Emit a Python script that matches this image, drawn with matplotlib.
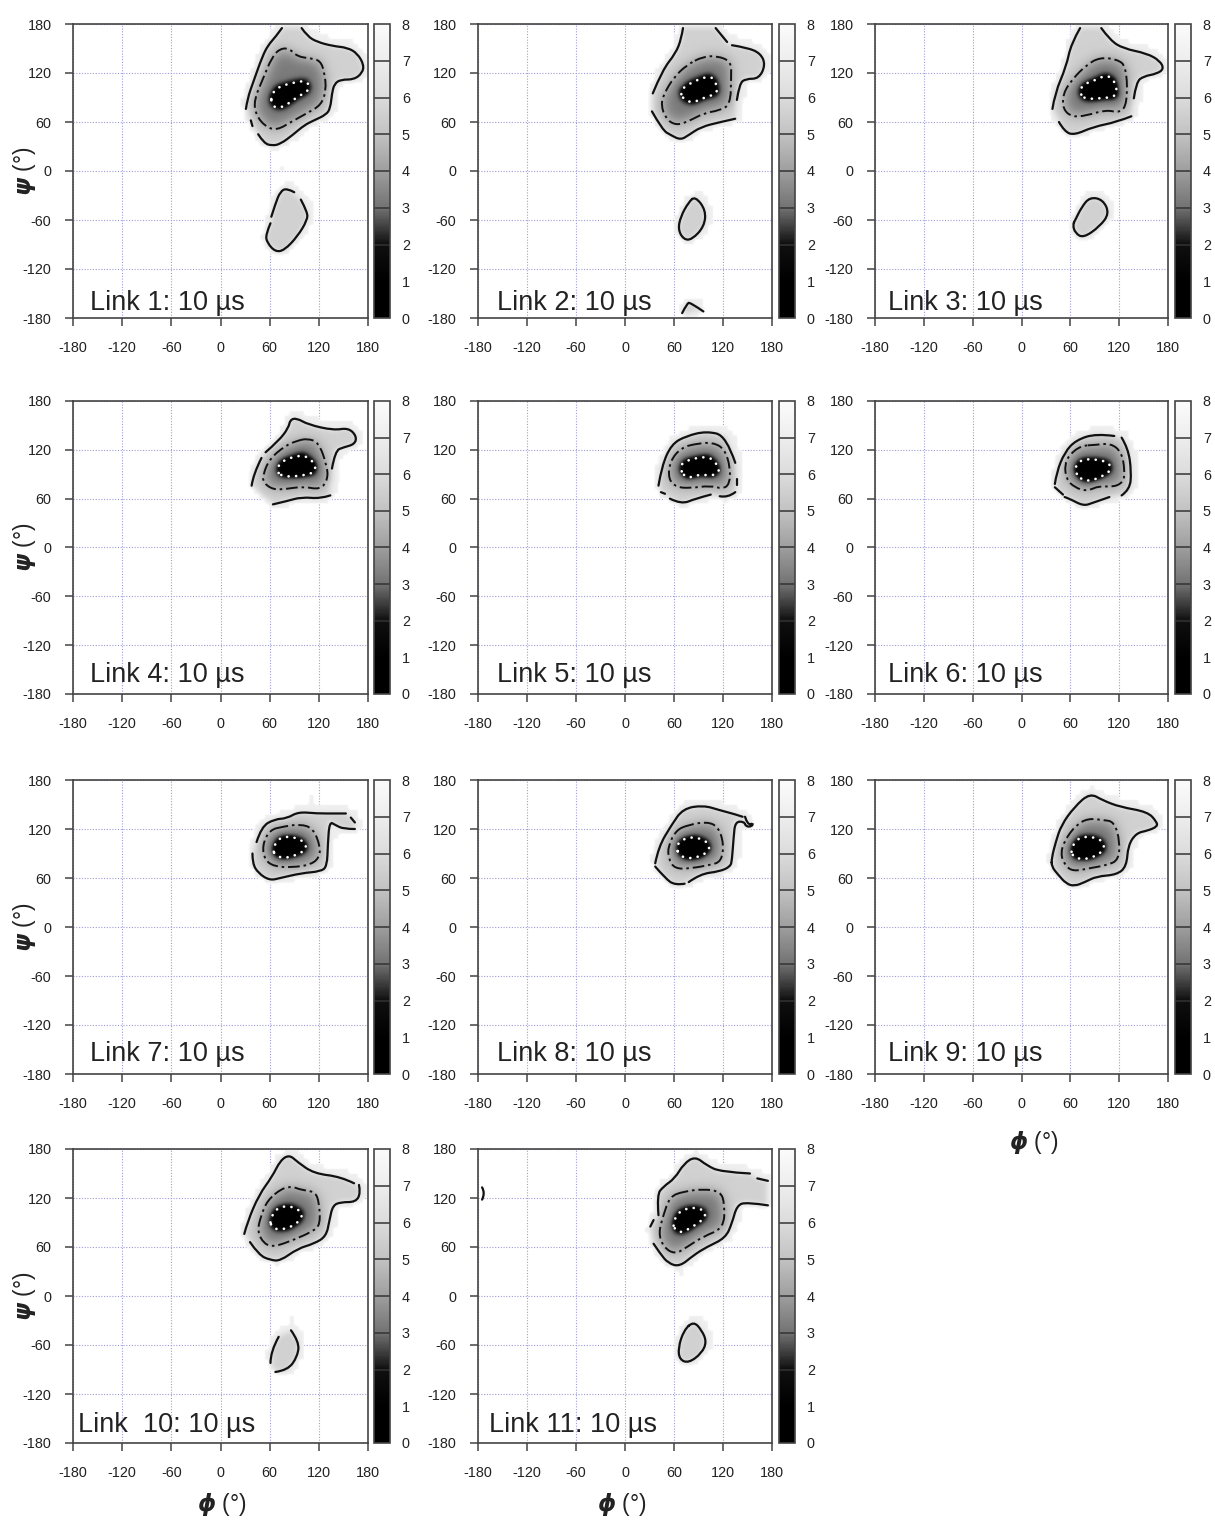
import numpy as np
import matplotlib
matplotlib.use("Agg")
import matplotlib.pyplot as plt
from matplotlib.colors import LinearSegmentedColormap
from matplotlib.path import Path
from matplotlib.patches import PathPatch

plt.rcParams['font.family'] = ['Liberation Sans', 'DejaVu Sans']
plt.rcParams['mathtext.fontset'] = 'dejavusans'
plt.rcParams['axes.unicode_minus'] = False

TICKS = [-180, -120, -60, 0, 60, 120, 180]
BAR_LEVELS = [0, 1, 2, 3, 4, 5, 6, 7, 8]
BAR_GREYS = [0.0, 0.0, 0.06, 0.45, 0.62, 0.76, 0.86, 0.93, 0.985]

# Contours as (phi, psi). Solid lines keep their gaps as separate pieces.
link1_solid = [
    [(31, 76), (33, 89), (40, 109), (51, 140), (58, 154), (67, 164), (75, 175)],
    [(99, 175), (106, 165), (118, 158), (137, 153), (155, 151), (167, 144), (175, 130), (173, 120), (163, 112),
     (147, 112), (139, 107), (136, 95), (134, 77), (129, 69), (114, 62), (102, 56), (88, 44), (73, 33), (63, 31),
     (53, 34), (46, 45)],
    [(39, 55), (37, 62)],
]
link1_dash = [(73, 150), (84, 150), (94, 140), (110, 138), (122, 135), (127, 120), (129, 99), (123, 81), (106, 71),
              (86, 60), (69, 50), (55, 54), (43, 69), (41, 87), (51, 111), (63, 140)]
link1_dots = [(62, 93), (70, 103), (88, 108), (106, 111), (109, 99), (94, 91), (78, 79), (67, 77), (62, 83)]
link1_lower = [
    [(62, -56), (67, -40), (73, -25), (81, -21), (90, -26)],
    [(98, -35), (106, -50), (106, -60), (94, -80), (78, -97), (67, -99), (57, -88), (55, -78), (61, -64)],
]
link1_specks = [(78, -172), (84, -172), (68, 20), (68, 10), (72, 0)]

link2_solid = [
    [(34, 95), (46, 124), (62, 144), (69, 162), (71, 175)],
    [(111, 175), (125, 158)],
    [(131, 154), (150, 151), (166, 144), (172, 130), (164, 113), (148, 113), (140, 107), (137, 87)],
    [(135, 64), (117, 60), (93, 54), (78, 44), (68, 38), (56, 44), (46, 50), (33, 73)],
]
link2_dash = [(95, 140), (113, 141), (130, 134), (130, 115), (129, 81), (115, 74), (97, 71), (76, 60), (62, 56),
              (50, 64), (44, 81), (48, 95), (60, 115), (76, 130)]
link2_dots = [(68, 99), (80, 108), (103, 117), (111, 110), (114, 95), (97, 90), (82, 83), (70, 89)]
link2_lower = [[(86, -31), (99, -48), (97, -68), (82, -84), (72, -84), (65, -72), (68, -56), (78, -38)]]
link2_arc = [(70, -174), (76, -162), (80, -161), (96, -172)]
link2_specks = [(85, -15), (68, -95)]

link3_solid = [
    [(38, 76), (41, 95), (55, 128), (61, 156), (72, 175)],
    [(98, 175), (109, 160), (125, 150), (154, 144), (170, 135), (175, 125), (166, 119), (150, 116), (141, 109),
     (138, 89)],
    [(135, 67), (117, 60), (88, 54), (65, 44), (53, 48), (46, 60)],
]
link3_dash = [(96, 139), (117, 137), (129, 128), (130, 83), (121, 71), (104, 75), (80, 68), (63, 66), (51, 75),
              (51, 95), (63, 113), (80, 130)]
link3_dots = [(71, 99), (78, 107), (90, 111), (105, 118), (115, 110), (118, 91), (96, 89), (76, 88)]
link3_lower = [
    [(66, -60), (74, -44), (84, -32), (100, -35), (108, -52), (96, -68), (76, -82), (66, -76), (63, -66)],
]
link3_specks = [(-172, 130), (-168, 130), (82, -175), (86, -175)]

link4_solid = [
    [(38, 76), (40, 90), (50, 110)],
    [(55, 117), (71, 131), (83, 147), (85, 157), (93, 159), (107, 151), (138, 144), (156, 147), (166, 137), (164, 127),
     (150, 123), (140, 119), (136, 97)],
    [(134, 64), (122, 60), (99, 62), (81, 57), (64, 53)],
]
link4_dash = [(106, 134), (120, 129), (130, 100), (131, 84), (122, 71), (101, 75), (81, 72), (64, 71), (52, 80),
              (52, 90), (60, 109), (79, 125), (93, 131)]
link4_dots = [(69, 94), (73, 106), (101, 115), (115, 104), (116, 92), (97, 88), (81, 87), (73, 89)]
link4_specks = [(90, 165), (96, 165), (84, 165)]

link5_solid = [
    [(41, 76), (45, 100), (57, 127), (75, 137), (100, 143), (124, 137), (135, 104)],
    [(137, 84), (137, 77)],
    [(135, 68), (126, 61), (116, 63)],
    [(105, 65), (86, 60), (69, 53), (55, 60)],
    [(49, 66), (44, 68)],
]
link5_dash = [(90, 128), (108, 129), (122, 121), (129, 98), (128, 78), (120, 72), (104, 76), (80, 73), (63, 74),
              (53, 84), (55, 106), (69, 123)]
link5_dots = [(68, 97), (71, 106), (102, 113), (113, 102), (116, 94), (108, 88), (90, 90), (77, 85), (71, 90)]
link5_specks = [(95, 150), (101, 150)]

link6_solid = [
    [(41, 78), (43, 92), (53, 117), (67, 132), (92, 140), (114, 137)],
    [(123, 135), (131, 122), (135, 93), (133, 71), (123, 64)],
    [(108, 62), (88, 55), (76, 51), (59, 60), (53, 62)],
    [(51, 65), (41, 74)],
]
link6_dash = [(90, 126), (110, 128), (123, 117), (127, 94), (125, 80), (112, 74), (96, 76), (80, 69), (65, 74),
              (55, 84), (53, 102), (59, 114), (73, 125)]
link6_dots = [(65, 96), (71, 107), (86, 109), (108, 105), (110, 94), (96, 86), (82, 81), (71, 85)]

link7_solid = [
    [(44, 104), (50, 123), (66, 132), (81, 133), (95, 141), (117, 139), (142, 139), (153, 139)],
    [(159, 134), (164, 128)],
    [(164, 120), (150, 120), (140, 125), (133, 129), (131, 102), (130, 74), (122, 68), (99, 66), (73, 60), (60, 57),
     (46, 66), (39, 78), (39, 90)],
]
link7_dash = [(77, 123), (97, 126), (113, 121), (122, 98), (120, 84), (109, 76), (87, 73), (66, 74), (54, 82),
              (51, 100), (60, 119)]
link7_dots = [(64, 96), (71, 109), (85, 111), (101, 106), (106, 96), (93, 88), (77, 84), (66, 88)]
link7_specks = [(108, 150), (108, 156)]

link8_solid = [
    [(37, 78), (41, 98), (57, 125), (71, 145), (96, 149), (116, 143), (135, 138), (144, 135)],
    [(147, 135), (150, 125), (157, 127), (155, 123), (148, 123), (146, 129), (135, 129), (133, 110), (131, 82),
     (129, 74), (116, 68), (92, 65), (78, 55)],
    [(73, 53), (61, 51), (49, 60), (37, 74)],
]
link8_dash = [(78, 125), (100, 129), (114, 123), (121, 102), (118, 80), (104, 76), (82, 72), (61, 71), (53, 84),
              (53, 100), (63, 119)]
link8_dots = [(63, 96), (67, 106), (84, 111), (102, 104), (104, 94), (90, 85), (73, 84), (66, 90)]

link9_solid = [
    [(37, 84), (42, 104), (49, 125), (65, 147), (84, 164), (100, 155), (121, 147), (155, 141), (166, 129), (167, 123),
     (155, 118), (141, 115), (131, 100), (129, 74), (117, 64), (92, 62), (78, 55), (65, 50), (55, 53), (45, 64),
     (37, 74)],
]
link9_dash = [(82, 133), (100, 131), (114, 129), (121, 104), (119, 82), (106, 76), (84, 72), (63, 68), (53, 76),
              (48, 90), (53, 106), (67, 125)]
link9_dots = [(61, 96), (69, 109), (84, 111), (100, 106), (102, 94), (86, 84), (69, 83), (62, 88)]

link10_solid = [
    [(29, 76), (33, 91), (47, 124), (63, 146), (73, 166), (84, 173), (94, 164), (114, 150), (147, 146), (163, 138)],
    [(169, 136), (171, 126), (165, 115), (147, 115), (137, 111), (133, 93), (129, 73), (114, 64), (94, 58), (73, 43),
     (61, 44), (47, 50), (36, 66)],
]
link10_dash = [(75, 132), (88, 134), (98, 130), (114, 128), (120, 118), (122, 87), (112, 79), (90, 69), (65, 60),
               (53, 64), (45, 79), (49, 97), (57, 117)]
link10_dots = [(61, 93), (67, 107), (84, 111), (100, 103), (98, 93), (84, 83), (67, 81), (61, 87)]
link10_lower = [
    [(86, -42), (96, -56), (94, -74), (82, -91), (67, -93)],
    [(61, -82), (61, -68), (71, -50)],
]
link10_specks = [(84, -30), (84, -36)]

link11_solid = [
    [(31, 85), (35, 93)],
    [(41, 99), (39, 124), (47, 134), (61, 144), (72, 162), (86, 171), (100, 160), (117, 152), (153, 150)],
    [(162, 144), (175, 141)],
    [(175, 111), (149, 115), (137, 111), (131, 89), (123, 71), (100, 60), (84, 50), (67, 36), (53, 40), (43, 52),
     (35, 64)],
]
link11_dash = [(72, 128), (96, 131), (117, 128), (122, 113), (121, 83), (96, 73), (76, 60), (61, 51), (47, 60),
               (41, 77), (47, 99), (55, 122)]
link11_dots = [(59, 89), (65, 103), (82, 109), (98, 105), (98, 95), (80, 83), (67, 77), (60, 83)]
link11_lower = [[(84, -31), (94, -42), (100, -56), (94, -70), (78, -82), (67, -78), (65, -64), (72, -42)]]
link11_arc = [(-175, 133), (-171, 126), (-175, 118)]
link11_specks = [(66, 25), (66, 15), (80, -12), (80, -18)]

# label, solid, dash, dots, lower basin, open arc, specks, column, row, label x px
panels = [
    ("Link 1: 10 µs", link1_solid, link1_dash, link1_dots, link1_lower, None, link1_specks, 0, 0, 90),
    ("Link 2: 10 µs", link2_solid, link2_dash, link2_dots, link2_lower, link2_arc, link2_specks, 1, 0, 497),
    ("Link 3: 10 µs", link3_solid, link3_dash, link3_dots, link3_lower, None, link3_specks, 2, 0, 888),
    ("Link 4: 10 µs", link4_solid, link4_dash, link4_dots, None, None, link4_specks, 0, 1, 90),
    ("Link 5: 10 µs", link5_solid, link5_dash, link5_dots, None, None, link5_specks, 1, 1, 497),
    ("Link 6: 10 µs", link6_solid, link6_dash, link6_dots, None, None, [], 2, 1, 888),
    ("Link 7: 10 µs", link7_solid, link7_dash, link7_dots, None, None, link7_specks, 0, 2, 90),
    ("Link 8: 10 µs", link8_solid, link8_dash, link8_dots, None, None, [], 1, 2, 497),
    ("Link 9: 10 µs", link9_solid, link9_dash, link9_dots, None, None, [], 2, 2, 888),
    ("Link  10: 10 µs", link10_solid, link10_dash, link10_dots, link10_lower, None, link10_specks, 0, 3, 78),
    ("Link 11: 10 µs", link11_solid, link11_dash, link11_dots, link11_lower, link11_arc, link11_specks, 1, 3, 489),
]

COL_X = [(73, 368, 374, 390), (478, 772, 779, 795), (875, 1168, 1175, 1191)]
ROW_Y = [(24, 318), (401, 694), (780, 1074), (1149, 1443)]
LABEL_Y = [303, 675, 1054, 1425]
W, H = 1215, 1520
FRAME = '#444444'

grey_map = LinearSegmentedColormap.from_list(
    'bar', [(v / 8, (g, g, g)) for v, g in zip(BAR_LEVELS, BAR_GREYS)])
grey_map.set_bad((1, 1, 1, 0))

cells = np.arange(-179, 180, 2)
gx, gy = np.meshgrid(cells, cells)
grid_pts = np.column_stack([gx.ravel(), gy.ravel()])


def inside(points):
    return Path(list(points) + [points[0]]).contains_points(grid_pts).reshape(gx.shape).astype(float)


def blur(field, sigma):
    # sigma in degrees, grid step is 2
    r = int(3 * sigma / 2) + 1
    k = np.exp(-0.5 * (np.arange(-r, r + 1) * 2 / sigma) ** 2)
    k /= k.sum()
    out = np.apply_along_axis(lambda v: np.convolve(v, k, mode='same'), 0, field)
    return np.apply_along_axis(lambda v: np.convolve(v, k, mode='same'), 1, out)


def make_field(solid, dash, dots, lower, arc, specks):
    region = inside([p for seg in solid for p in seg])
    if lower:
        region = np.maximum(region, inside([p for seg in lower for p in seg]))
    if arc:
        region = np.maximum(region, inside(arc))
    halo = blur(region, 6) > 0.1
    for phi, psi in specks:
        halo[int((psi + 180) / 2), int((phi + 180) / 2)] = True
    # blocky halo, the original bins are about 6 degrees wide
    blocks = halo[::3, ::3]
    halo = np.kron(blocks, np.ones((3, 3)))[:gx.shape[0], :gx.shape[1]]
    field = 8 - 0.9 * blur(halo, 1.5) - 1.5 * blur(region, 3) - 2.4 * blur(inside(dash), 8) - 3.2 * blur(inside(dots), 5)
    return np.ma.masked_where(field > 7.75, field)


def smooth_path(points, closed):
    pts = np.array(points, dtype=float)
    if closed:
        start = (pts[-1] + pts[0]) / 2
        verts, codes = [start], [Path.MOVETO]
        for i in range(len(pts)):
            verts += [pts[i], (pts[i] + pts[(i + 1) % len(pts)]) / 2]
            codes += [Path.CURVE3, Path.CURVE3]
        return Path(verts, codes)
    if len(pts) < 3:
        return Path(pts)
    verts, codes = [pts[0]], [Path.MOVETO]
    for i in range(1, len(pts) - 1):
        end = pts[i + 1] if i == len(pts) - 2 else (pts[i] + pts[i + 1]) / 2
        verts += [pts[i], end]
        codes += [Path.CURVE3, Path.CURVE3]
    return Path(verts, codes)


def draw_line(ax, points, closed, **style):
    ax.add_patch(PathPatch(smooth_path(points, closed), fill=False, zorder=3, **style))


def draw_segments(ax, segments):
    closed = len(segments) == 1
    for seg in segments:
        draw_line(ax, seg, closed, edgecolor='#111111', lw=1.6, capstyle='round')


fig = plt.figure(figsize=(W / 100, H / 100), dpi=100, facecolor='white')

for label, solid, dash, dots, lower, arc, specks, col, row, label_x in panels:
    x0, x1, bx0, bx1 = COL_X[col]
    y0, y1 = ROW_Y[row]
    ax = fig.add_axes([x0 / W, 1 - y1 / H, (x1 - x0) / W, (y1 - y0) / H])
    im = ax.imshow(make_field(solid, dash, dots, lower, arc, specks), cmap=grey_map, vmin=0, vmax=8, origin='lower',
                   extent=(-180, 180, -180, 180), aspect='auto', interpolation='bilinear', zorder=1)
    draw_segments(ax, solid)
    if lower:
        draw_segments(ax, lower)
    if arc:
        draw_line(ax, arc, False, edgecolor='#111111', lw=1.6, capstyle='round')
    draw_line(ax, dash, True, edgecolor='#111111', lw=1.4, linestyle=(0, (6, 2, 1.3, 2)))
    draw_line(ax, dots, True, edgecolor='white', lw=1.9, linestyle=(0, (0.05, 2.8)), capstyle='round')

    ax.set_xlim(-180, 180)
    ax.set_ylim(-180, 180)
    ax.set_xticks(TICKS)
    ax.set_yticks(TICKS)
    ax.set_axisbelow(True)
    ax.grid(True, color=(0.62, 0.62, 0.85), lw=0.8, linestyle=(0, (1, 1.5)))
    ax.tick_params(length=6, width=1.1, color=FRAME, labelcolor='#222222', labelsize=10.4)
    ax.tick_params(axis='x', pad=10.5)
    ax.tick_params(axis='y', pad=9.5)
    for spine in ax.spines.values():
        spine.set_color(FRAME)
        spine.set_linewidth(1.2)
    fig.text(label_x / W, 1 - LABEL_Y[row] / H, label, fontsize=19.5, color='#222222', va='center', ha='left')

    cax = fig.add_axes([bx0 / W, 1 - y1 / H, (bx1 - bx0) / W, (y1 - y0) / H])
    bar = fig.colorbar(plt.cm.ScalarMappable(norm=im.norm, cmap=grey_map), cax=cax, ticks=BAR_LEVELS)
    bar.ax.tick_params(length=0, labelsize=10.4, labelcolor='#222222', pad=8.5)
    bar.ax.hlines(BAR_LEVELS[2:-1], 0, 1, colors='#333333', lw=1.1, transform=bar.ax.get_yaxis_transform())
    bar.outline.set_edgecolor(FRAME)
    bar.outline.set_linewidth(1.2)

for row in range(4):
    fig.text(25 / W, 1 - (ROW_Y[row][0] + ROW_Y[row][1]) / 2 / H, r'$\boldsymbol{\psi}$ (°)', fontsize=16.5,
             rotation=90, ha='center', va='center', color='#222222')
for px, py in [(1034, 1143), (222, 1505), (622, 1505)]:
    fig.text(px / W, 1 - py / H, r'$\boldsymbol{\phi}$ (°)', fontsize=16.5, ha='center', va='center', color='#222222')

fig.savefig('out.png', dpi=100, facecolor='white')
